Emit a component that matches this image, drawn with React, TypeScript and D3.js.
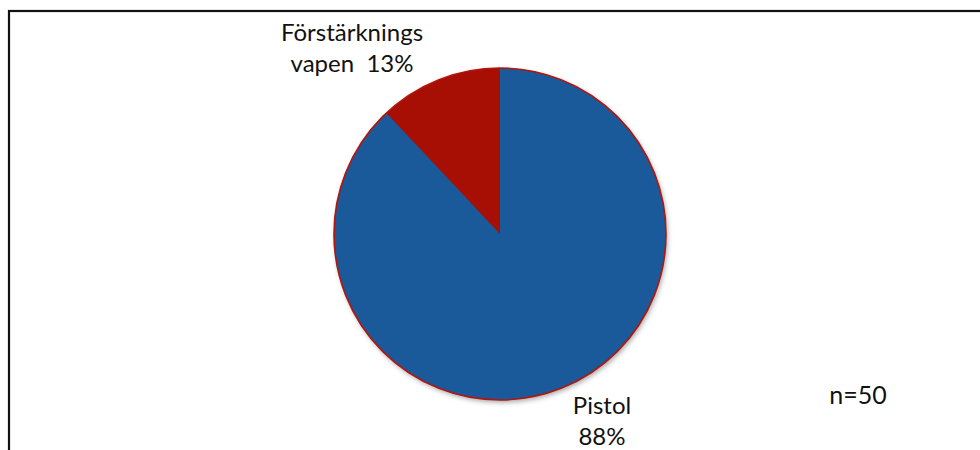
import React from 'react';
import * as d3 from 'd3';

const WIDTH = 980;
const HEIGHT = 450;

// n=50 respondents
const categories = ['Pistol', 'Förstärknings vapen'];
const counts = [44, 6];
const labelLines = [
  ['Pistol', '88%'],
  ['Förstärknings', 'vapen  13%'],
];
const colors = ['#1A5A9A', '#A80F04'];
const note = 'n=50';

const CX = 500;
const CY = 234;
const R = 166;

const App = () => {
  const pie = d3
    .pie<number>()
    .sort(null)
    .startAngle(0)
    .endAngle(2 * Math.PI)(counts);

  const arc = d3.arc<d3.PieArcDatum<number>>().innerRadius(0).outerRadius(R);

  // label positions (centre of text block, first baseline)
  const labelPos = [
    { x: 602, y: 414 },
    { x: 352, y: 41 },
  ];

  return (
    <svg
      width={WIDTH}
      height={HEIGHT}
      viewBox={`0 0 ${WIDTH} ${HEIGHT}`}
      style={{ position: 'absolute', left: 0, top: 0, background: '#fff' }}
      fontFamily="Lato, 'Open Sans', sans-serif"
    >
      <defs>
        <filter id="shadow" x="-20%" y="-20%" width="140%" height="140%">
          <feDropShadow dx={1.5} dy={2.5} stdDeviation={2.5} floodColor="#000" floodOpacity={0.35} />
        </filter>
      </defs>
      {/* frame: only left and top edges visible */}
      <rect x={9} y={11} width={1100} height={600} fill="none" stroke="#111" strokeWidth={2.2} />

      <g transform={`translate(${CX},${CY})`}>
        <circle r={R} fill="#1A5A9A" filter="url(#shadow)" />
        {pie.map((d, i) => (
          <path key={categories[i]} d={arc(d) || ''} fill={colors[i]} />
        ))}
        <circle r={R} fill="none" stroke="#B2160C" strokeWidth={1.6} />
      </g>

      {labelLines.map((lines, i) => (
        <text
          key={categories[i]}
          x={labelPos[i].x}
          y={labelPos[i].y}
          textAnchor="middle"
          fontSize={24}
          fill="#111"
          style={{ whiteSpace: 'pre' }}
        >
          {lines.map((l, j) => (
            <tspan key={j} x={labelPos[i].x} dy={j === 0 ? 0 : 31}>
              {l}
            </tspan>
          ))}
        </text>
      ))}

      <text x={858} y={404} textAnchor="middle" fontSize={25} fill="#111">
        {note}
      </text>
    </svg>
  );
};

export default App;
